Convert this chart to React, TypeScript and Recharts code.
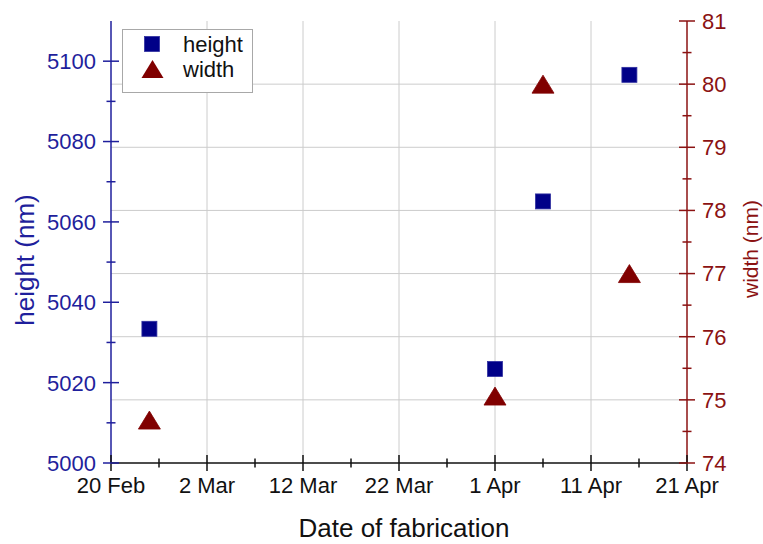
import React from "react";
import {
  ScatterChart, Scatter, XAxis, YAxis, ReferenceLine,
} from "recharts";

// days counted from 20 Feb (non-leap year, so 20 Feb + 10 = 2 Mar)
const fabricationDay = [4, 40, 45, 54];
const heightNm = [5033.4, 5023.4, 5065.1, 5096.6];
const widthNm = [74.68, 75.06, 80.0, 77.0];

const xTicks = [0, 5, 10, 15, 20, 25, 30, 35, 40, 45, 50, 55, 60];
const xMajor = [0, 10, 20, 30, 40, 50, 60];
const xLabels = ["20 Feb", "2 Mar", "12 Mar", "22 Mar", "1 Apr", "11 Apr", "21 Apr"];
const heightTicks = [5000, 5010, 5020, 5030, 5040, 5050, 5060, 5070, 5080, 5090, 5100];
const widthTicks = [74, 74.5, 75, 75.5, 76, 76.5, 77, 77.5, 78, 78.5, 79, 79.5, 80, 80.5, 81];

const C = {
  blueAxis: "#1f1f9c",
  redAxis: "#8b1212",
  square: "#000088",
  squareEdge: "#3030a0",
  triangle: "#800000",
  grid: "#cccccc",
  black: "#111111",
};

const FONT = "'Liberation Sans', Arial, sans-serif";

const heightData = fabricationDay.map((d, i) => ({ day: d, value: heightNm[i] }));
const widthData = fabricationDay.map((d, i) => ({ day: d, value: widthNm[i] }));

function BottomTick(props: any) {
  const { x, y, payload } = props;
  const v = payload.value as number;
  const major = v % 10 === 0;
  const len = major ? 8 : 4.5;
  return (
    <g>
      <line x1={x} x2={x} y1={y - len} y2={y + len} stroke={C.black} strokeWidth={1.5} />
      {major && (
        <text x={x} y={y + 30} textAnchor="middle" fontSize={22} fontFamily={FONT} fill={C.black}>
          {xLabels[xMajor.indexOf(v)]}
        </text>
      )}
    </g>
  );
}

function TopTick(props: any) {
  const { x, y, payload } = props;
  const major = (payload.value as number) % 10 === 0;
  return <line x1={x} x2={x} y1={y} y2={y + (major ? 9 : 4.5)} stroke={C.black} strokeWidth={1.5} />;
}

function LeftTick(props: any) {
  const { x, y, payload } = props;
  const v = payload.value as number;
  const major = v % 20 === 0;
  const len = major ? 8 : 4.5;
  return (
    <g>
      <line x1={x - len} x2={x + len} y1={y} y2={y} stroke={C.blueAxis} strokeWidth={1.5} />
      {major && (
        <text x={x - 15} y={y} dy="0.36em" textAnchor="end" fontSize={22} fontFamily={FONT} fill={C.blueAxis}>
          {v}
        </text>
      )}
    </g>
  );
}

function RightTick(props: any) {
  const { x, y, payload } = props;
  const v = payload.value as number;
  const major = Number.isInteger(v);
  const len = major ? 8 : 4.5;
  return (
    <g>
      <line x1={x - len} x2={x + len} y1={y} y2={y} stroke={C.redAxis} strokeWidth={1.5} />
      {major && (
        <text x={x + 15} y={y} dy="0.36em" textAnchor="start" fontSize={22} fontFamily={FONT} fill={C.redAxis}>
          {v}
        </text>
      )}
    </g>
  );
}

function SquareShape(props: any) {
  const { cx, cy } = props;
  return <rect x={cx - 7.5} y={cy - 7.5} width={15} height={15} fill={C.square} stroke={C.squareEdge} strokeWidth={0.8} />;
}

function TriangleShape(props: any) {
  const { cx, cy } = props;
  const pts = `${cx},${cy - 9} ${cx + 11},${cy + 9} ${cx - 11},${cy + 9}`;
  return <polygon points={pts} fill={C.triangle} stroke={C.triangle} strokeWidth={0.8} strokeLinejoin="round" />;
}

function LegendBox() {
  return (
    <svg width={132} height={66} style={{ position: "absolute", left: 122, top: 29 }}>
      <rect x={0.5} y={0.5} width={130} height={63} fill="#ffffff" stroke="#a8a8a8" strokeWidth={1} />
      <rect x={22.5} y={7.5} width={15} height={15} fill={C.square} stroke={C.squareEdge} strokeWidth={0.8} />
      <text x={61} y={22.5} fontSize={22} fontFamily={FONT} fill={C.black}>height</text>
      <polygon points="30.5,31 41.5,49 19.5,49" fill={C.triangle} />
      <text x={61} y={48} fontSize={22} fontFamily={FONT} fill={C.black}>width</text>
    </svg>
  );
}

export default function App() {
  return (
    <div style={{ position: "relative", width: 763, height: 544, background: "#fff" }}>
      <style>{`body{margin:0}`}</style>
      <ScatterChart width={763} height={544} margin={{ top: 21, right: 0, bottom: 0, left: 0 }}>
        <XAxis xAxisId="bottom" dataKey="day" type="number" domain={[0, 60]} ticks={xTicks} interval={0}
          allowDataOverflow height={81} tickSize={0} tickMargin={0} tick={<BottomTick />}
          axisLine={{ stroke: C.black, strokeWidth: 1.5 }} tickLine={false} />
        <XAxis xAxisId="top" orientation="top" dataKey="day" type="number" domain={[0, 60]} ticks={xTicks}
          interval={0} allowDataOverflow height={0} tickSize={0} tickMargin={0} tick={<TopTick />}
          axisLine={{ stroke: C.black, strokeWidth: 1.5 }} tickLine={false} />
        <YAxis yAxisId="left" dataKey="value" type="number" domain={[5000, 5110]} ticks={heightTicks}
          interval={0} allowDataOverflow width={111} tickSize={0} tickMargin={0} tick={<LeftTick />}
          axisLine={{ stroke: C.blueAxis, strokeWidth: 1.5 }} tickLine={false} />
        <YAxis yAxisId="right" orientation="right" dataKey="value" type="number" domain={[74, 81]}
          ticks={widthTicks} interval={0} allowDataOverflow width={76} tickSize={0} tickMargin={0}
          tick={<RightTick />} axisLine={{ stroke: C.redAxis, strokeWidth: 1.5 }} tickLine={false} />

        {xMajor.slice(1, -1).map((v) => (
          <ReferenceLine key={`vx-${v}`} xAxisId="bottom" yAxisId="right" x={v} stroke={C.grid} strokeWidth={1} />
        ))}
        {widthTicks.filter((v) => Number.isInteger(v) && v > 74 && v < 81).map((v) => (
          <ReferenceLine key={`hy-${v}`} xAxisId="bottom" yAxisId="right" y={v} stroke={C.grid} strokeWidth={1} />
        ))}

        <Scatter name="height" data={heightData} xAxisId="bottom" yAxisId="left" shape={<SquareShape />}
          isAnimationActive={false} />
        <Scatter name="width" data={widthData} xAxisId="bottom" yAxisId="right" shape={<TriangleShape />}
          isAnimationActive={false} />

        <text transform="translate(34,260) rotate(-90)" textAnchor="middle" fontSize={26} fontFamily={FONT}
          fill={C.blueAxis}>height (nm)</text>
        <text transform="translate(758,249) rotate(-90)" textAnchor="middle" fontSize={21} fontFamily={FONT}
          fill={C.redAxis}>width (nm)</text>
        <text x={404} y={537} textAnchor="middle" fontSize={26} fontFamily={FONT} fill={C.black}>
          Date of fabrication
        </text>
      </ScatterChart>
      <LegendBox />
    </div>
  );
}
